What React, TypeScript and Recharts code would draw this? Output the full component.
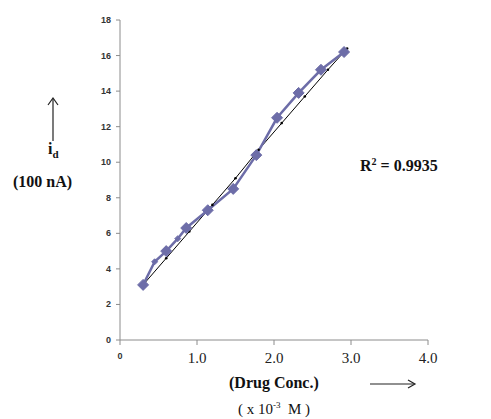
import React from 'react';
import { LineChart, Line, XAxis, YAxis } from 'recharts';

const concX = [0.3, 0.45, 0.6, 0.75, 0.86, 1.14, 1.47, 1.77, 2.04, 2.32, 2.61, 2.91];
const currentY = [3.1, 4.4, 5.0, 5.7, 6.3, 7.3, 8.5, 10.4, 12.5, 13.9, 15.2, 16.2];
const bigMarker = [true, false, true, false, true, true, true, true, true, true, true, true];

const fitX = [0.3, 0.6, 0.9, 1.2, 1.5, 1.8, 2.1, 2.4, 2.7, 2.95];
const fitY = [3.1, 4.6, 6.1, 7.6, 9.1, 10.7, 12.2, 13.7, 15.2, 16.4];

const xTicks = [0, 1, 2, 3, 4];
const yTicks = [0, 2, 4, 6, 8, 10, 12, 14, 16, 18];

const measured = concX.map((x, i) => ({ x, y: currentY[i], big: bigMarker[i] }));
const trend = fitX.map((x, i) => ({ x, y: fitY[i] }));

const PURPLE = '#6d6da8';
const serif = '"Liberation Serif", "Times New Roman", serif';
const sans = '"Liberation Sans", Arial, sans-serif';

const Diamond = (props: any) => {
  const { cx, cy, payload } = props;
  if (cx == null || cy == null) return null;
  const r = payload.big ? 5.5 : 3;
  return (
    <path
      d={`M${cx},${cy - r} L${cx + r},${cy} L${cx},${cy + r} L${cx - r},${cy} Z`}
      fill={PURPLE}
      stroke={PURPLE}
    />
  );
};

const SmallDot = (props: any) => {
  const { cx, cy } = props;
  if (cx == null || cy == null) return null;
  return <circle cx={cx} cy={cy} r={1.3} fill="#000" />;
};

const XTick = (props: any) => {
  const { x, y, payload } = props;
  if (payload.value === 0) {
    return (
      <text x={x} y={y + 12} textAnchor="middle" fontFamily={sans} fontSize={9} fontWeight="bold" fill="#333">
        0
      </text>
    );
  }
  return (
    <text x={x} y={y + 16} textAnchor="middle" fontFamily={serif} fontSize={15} fill="#222">
      {payload.value.toFixed(1)}
    </text>
  );
};

const YTick = (props: any) => {
  const { x, y, payload } = props;
  return (
    <text x={x - 3} y={y + 3} textAnchor="end" fontFamily={sans} fontSize={9} fontWeight="bold" fill="#333">
      {payload.value}
    </text>
  );
};

export default function App() {
  return (
    <div style={{ position: 'absolute', left: 0, top: 0, width: 491, height: 419, background: '#fff' }}>
      <LineChart width={491} height={419} margin={{ top: 20, right: 63, bottom: 59, left: 0 }}>
        <XAxis
          type="number"
          dataKey="x"
          domain={[0, 4]}
          ticks={xTicks}
          tick={<XTick />}
          height={20}
          stroke="#8c8c8c"
          tickSize={5}
          allowDuplicatedCategory={false}
        />
        <YAxis
          type="number"
          dataKey="y"
          domain={[0, 18]}
          ticks={yTicks}
          tick={<YTick />}
          width={120}
          stroke="#8c8c8c"
          tickSize={4}
        />
        <Line
          data={trend}
          dataKey="y"
          stroke="#000"
          strokeWidth={1}
          dot={<SmallDot />}
          isAnimationActive={false}
        />
        <Line
          data={measured}
          dataKey="y"
          stroke={PURPLE}
          strokeWidth={2.5}
          dot={<Diamond />}
          isAnimationActive={false}
        />
      </LineChart>

      <svg style={{ position: 'absolute', left: 45, top: 95 }} width={16} height={50}>
        <line x1={8} y1={4} x2={8} y2={46} stroke="#222" strokeWidth={1.2} />
        <path d="M3,10 L8,3 L13,10" fill="none" stroke="#222" strokeWidth={1.2} />
      </svg>
      <div style={{ position: 'absolute', left: 48, top: 140, fontFamily: serif, fontWeight: 'bold', fontSize: 16, color: '#111' }}>
        i<sub style={{ fontSize: 11 }}>d</sub>
      </div>
      <div style={{ position: 'absolute', left: 13, top: 173, fontFamily: serif, fontWeight: 'bold', fontSize: 16, color: '#111' }}>
        (100 nA)
      </div>
      <div style={{ position: 'absolute', left: 360, top: 156, fontFamily: serif, fontWeight: 'bold', fontSize: 16, color: '#111' }}>
        R<sup style={{ fontSize: 10 }}>2</sup> = 0.9935
      </div>
      <div style={{ position: 'absolute', left: 229, top: 374, fontFamily: serif, fontWeight: 'bold', fontSize: 16, color: '#111' }}>
        (Drug Conc.)
      </div>
      <svg style={{ position: 'absolute', left: 368, top: 377 }} width={50} height={14}>
        <line x1={2} y1={7} x2={46} y2={7} stroke="#222" strokeWidth={1.2} />
        <path d="M40,3 L47,7 L40,11" fill="none" stroke="#222" strokeWidth={1.2} />
      </svg>
      <div style={{ position: 'absolute', left: 238, top: 400, fontFamily: serif, fontSize: 15, color: '#111', whiteSpace: 'pre' }}>
        ( x 10<sup style={{ fontSize: 9 }}>-3</sup>  M )
      </div>
    </div>
  );
}
